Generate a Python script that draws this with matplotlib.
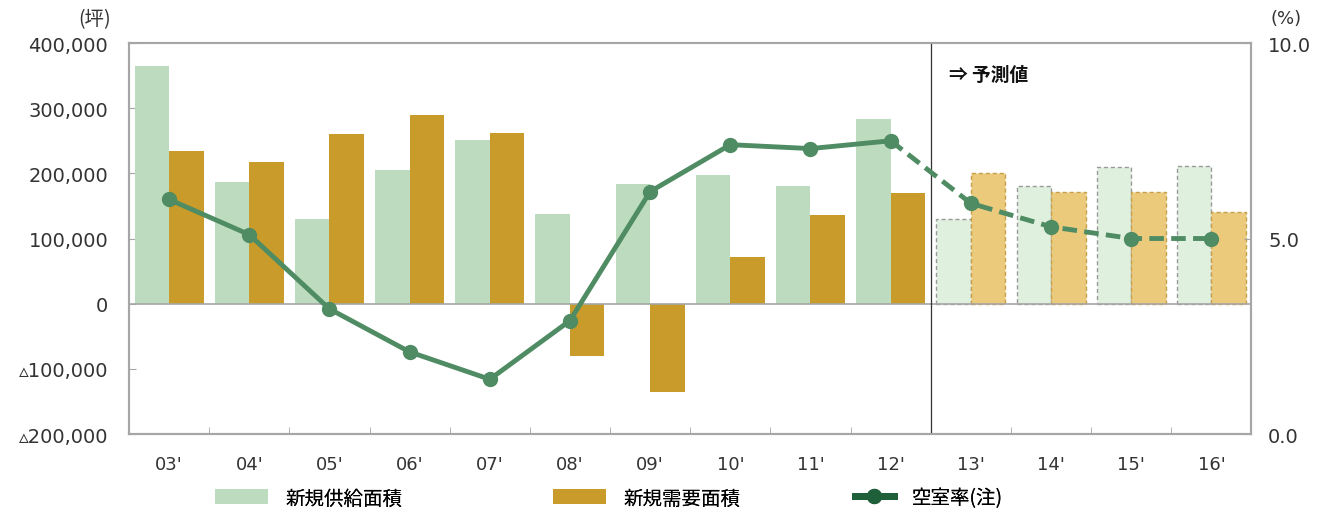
import matplotlib
matplotlib.use("Agg")
import matplotlib.pyplot as plt
import numpy as np
from matplotlib.patches import Patch
from matplotlib.lines import Line2D

plt.rcParams['font.family'] = ['DejaVu Sans', 'Noto Sans CJK JP']

years = ["03'", "04'", "05'", "06'", "07'", "08'", "09'", "10'", "11'", "12'", "13'", "14'", "15'", "16'"]
supply = [365000, 187000, 130000, 205000, 251000, 138000, 184000, 198000, 181000, 284000, 130000, 180000, 210000, 212000]
demand = [235000, 218000, 261000, 290000, 262000, -81000, -135000, 72000, 136000, 170000, 200000, 172000, 172000, 140000]
vacancy = [6.0, 5.1, 3.2, 2.1, 1.4, 2.9, 6.2, 7.4, 7.3, 7.5, 5.9, 5.3, 5.0, 5.0]
n_actual = 10
left_ticks = [-200000, -100000, 0, 100000, 200000, 300000, 400000]
left_labels = ["▵200,000", "▵100,000", "0", "100,000", "200,000", "300,000", "400,000"]
right_ticks = [0.0, 5.0, 10.0]
right_labels = ["0.0", "5.0", "10.0"]
legend_labels = ["新規供給面積", "新規需要面積", "空室率(注)"]

c_sup = "#bddcbf"
c_dem = "#c99b2b"
c_sup_f = "#dff1de"
c_dem_f = "#ebca7c"
c_line = "#4f8c63"
c_leg_line = "#1f5f3a"
spine_c = "#a6a6a6"
cjk = ['Noto Sans CJK JP', 'DejaVu Sans']

fig = plt.figure(figsize=(13.19, 5.10), dpi=100)
ax = fig.add_axes([0.0978, 0.147, 0.851, 0.7667])
x = np.arange(len(years))
w = 0.43

for i in range(len(years)):
    if i < n_actual:
        ax.bar(x[i] - w / 2, supply[i], w, color=c_sup, zorder=2)
        ax.bar(x[i] + w / 2, demand[i], w, color=c_dem, zorder=2)
    else:
        ax.bar(x[i] - w / 2, supply[i], w, facecolor=c_sup_f, edgecolor="#9a9a9a",
               linestyle=(0, (3, 2)), linewidth=1.0, zorder=2)
        ax.bar(x[i] + w / 2, demand[i], w, facecolor=c_dem_f, edgecolor="#c9a04a",
               linestyle=(0, (3, 2)), linewidth=1.0, zorder=2)

ax.set_xlim(-0.5, len(years) - 0.5)
ax.set_ylim(-200000, 400000)
ax.axhline(0, color=spine_c, linewidth=1.2, zorder=3)
ax.axvline(n_actual - 0.5, color="#333333", linewidth=0.9, zorder=3)

ax.set_yticks(left_ticks)
ax.set_yticklabels(left_labels, fontsize=14, color="#333333")
ax.set_xticks(x)
ax.set_xticklabels(years, fontsize=13, color="#333333")
ax.tick_params(axis='x', length=0, pad=15)
ax.set_xticks(np.arange(-0.5, len(years), 1), minor=True)
ax.tick_params(axis='x', which='minor', direction='in', length=5, color=spine_c)
ax.tick_params(axis='y', direction='in', length=5, color=spine_c, pad=15)
for s in ax.spines.values():
    s.set_color(spine_c)
    s.set_linewidth(1.5)

ax2 = ax.twinx()
ax2.set_ylim(0, 10)
ax2.plot(x[:n_actual], vacancy[:n_actual], color=c_line, linewidth=3.5,
         marker='o', markersize=10, zorder=5)
ax2.plot(x[n_actual - 1:], vacancy[n_actual - 1:], color=c_line, linewidth=3.5,
         linestyle=(0, (3, 1.5)), zorder=5)
ax2.plot(x[n_actual:], vacancy[n_actual:], color=c_line, linestyle='none',
         marker='o', markersize=10, zorder=5)
ax2.set_yticks(right_ticks)
ax2.set_yticklabels(right_labels, fontsize=14, color="#333333")
ax2.tick_params(axis='y', direction='in', length=5, color=spine_c, pad=12)
for s in ax2.spines.values():
    s.set_color(spine_c)
    s.set_linewidth(1.5)

ax.text(n_actual - 0.27, 352000, "⇒ 予測値", fontsize=13.5, color="#111111",
        va='center', ha='left', fontweight='bold', family=['Noto Sans CJK JP', 'DejaVu Sans'])

fig.text(0.059, 0.962, "(坪)", fontsize=14, color="#333333", ha='left', va='center',
         family=cjk)
fig.text(0.963, 0.962, "(%)", fontsize=13, color="#333333", ha='left', va='center')

handles = [Patch(facecolor=c_sup, edgecolor='none'),
           Patch(facecolor=c_dem, edgecolor='none'),
           Line2D([0], [0], color=c_leg_line, linewidth=5, marker='o', markersize=10)]
leg_x = [215 / 1319, 553 / 1319, 855 / 1319]
hl = [2.7, 2.7, 2.0]
for h, lab, lx, l in zip(handles, legend_labels, leg_x, hl):
    lg = fig.legend([h], [lab], loc='center left', bbox_to_anchor=(lx, 1 - 499 / 510),
                    frameon=False, handlelength=l, handleheight=0.8, handletextpad=0.9,
                    borderpad=0, borderaxespad=0,
                    prop={'family': cjk, 'size': 14})
    fig.add_artist(lg)

fig.savefig("out.png", dpi=100)
